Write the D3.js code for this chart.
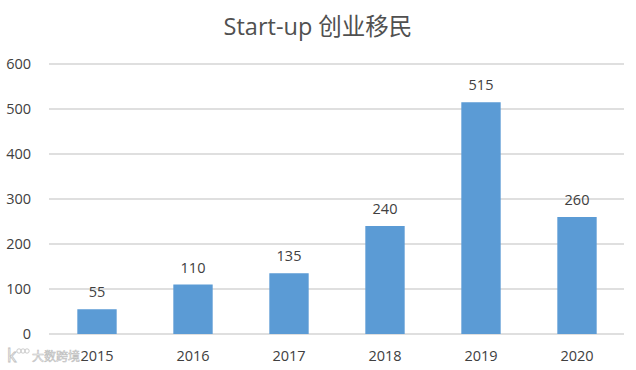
<!DOCTYPE html>
<html>
<head>
<meta charset="utf-8">
<script src="https://cdnjs.cloudflare.com/ajax/libs/d3/7.8.5/d3.min.js"></script>
<style>
  body { margin: 0; background: #fff; }
  text { font-family: "Open Sans", "Noto Sans CJK SC", sans-serif; fill: #404040; }
</style>
</head>
<body>
<div id="chart"></div>
<script>
const years = ["2015", "2016", "2017", "2018", "2019", "2020"];
const counts = [55, 110, 135, 240, 515, 260];
const yTicks = [0, 100, 200, 300, 400, 500, 600];
const titleText = "Start-up 创业移民";
const watermark = "大数跨境";

const svg = d3.select("#chart").append("svg").attr("width", 636).attr("height", 370);

const x = d3.scaleBand().domain(years).range([49, 625]).paddingInner(0.59).paddingOuter(0.295);
const y = d3.scaleLinear().domain([0, 600]).range([334, 64]);

// gridlines
svg.selectAll(".grid").data(yTicks).enter().append("line")
    .attr("x1", 49).attr("x2", 624)
    .attr("y1", d => y(d)).attr("y2", d => y(d))
    .attr("stroke", "#d4d4d4")
    .attr("stroke-width", 1.3);

// y tick labels
svg.selectAll(".ylab").data(yTicks).enter().append("text")
    .attr("x", 31).attr("y", d => y(d) + 5)
    .attr("text-anchor", "end").attr("font-size", 14.5)
    .text(d => d);

// bars
svg.selectAll(".bar").data(counts).enter().append("rect")
    .attr("x", (d, i) => x(years[i]))
    .attr("y", d => y(d))
    .attr("width", x.bandwidth())
    .attr("height", d => y(0) - y(d))
    .attr("fill", "#5b9bd5");

// value labels
svg.selectAll(".val").data(counts).enter().append("text")
    .attr("x", (d, i) => x(years[i]) + x.bandwidth() / 2)
    .attr("y", d => y(d) - 12)
    .attr("text-anchor", "middle").attr("font-size", 14.5)
    .text(d => d);

// x labels
svg.selectAll(".xlab").data(years).enter().append("text")
    .attr("x", d => x(d) + x.bandwidth() / 2)
    .attr("y", 361)
    .attr("text-anchor", "middle").attr("font-size", 14.5)
    .text(d => d);

svg.append("text").attr("x", 318).attr("y", 35)
    .attr("text-anchor", "middle").attr("font-size", 23.5)
    .style("fill", "#505050")
    .text(titleText);

// watermark bottom left
const wm = svg.append("g").attr("opacity", 0.8);
wm.append("text").attr("x", 32).attr("y", 361).attr("font-size", 12)
    .style("fill", "#ffffff").attr("stroke", "#b0b0b0").attr("stroke-width", 0.6)
    .text(watermark);
wm.append("text").attr("x", 7).attr("y", 362).attr("font-size", 18)
    .style("fill", "#ffffff").attr("stroke", "#b0b0b0").attr("stroke-width", 0.8)
    .text("k");
wm.selectAll("circle").data([0, 1, 2]).enter().append("circle")
    .attr("cx", d => 19 + d * 4).attr("cy", 351).attr("r", 2.2)
    .attr("fill", "none").attr("stroke", "#b0b0b0").attr("stroke-width", 0.8);
</script>
</body>
</html>
